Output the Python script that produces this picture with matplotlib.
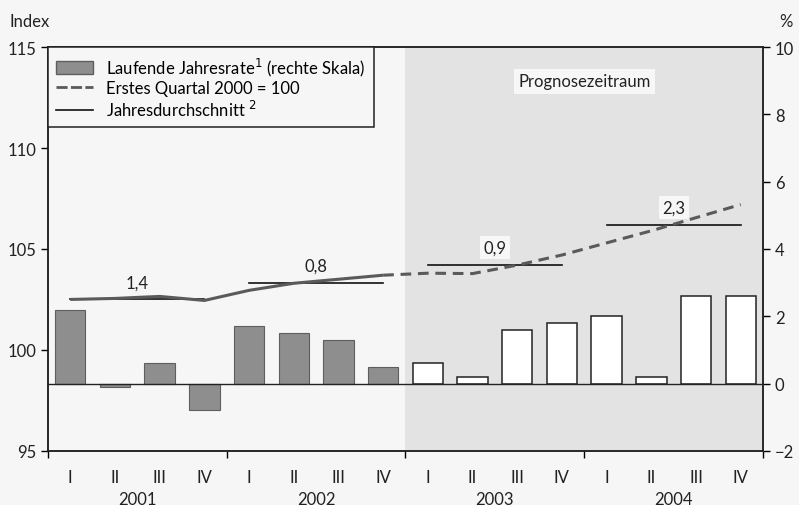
import numpy as np
import matplotlib
matplotlib.use('Agg')
import matplotlib.pyplot as plt
from matplotlib.patches import Patch
from matplotlib.lines import Line2D

plt.rcParams['font.family'] = ['Lato', 'DejaVu Sans']

# Quarters 2001 I .. 2004 IV
quarters = ['I', 'II', 'III', 'IV'] * 4
years = ['2001', '2002', '2003', '2004']

# Laufende Jahresrate in % (right scale)
rate = [2.2, -0.1, 0.6, -0.8, 1.7, 1.5, 1.3, 0.5,
        0.6, 0.2, 1.6, 1.8, 2.0, 0.2, 2.6, 2.6]

# Index, erstes Quartal 2000 = 100
index = [102.5, 102.55, 102.65, 102.45, 102.95, 103.3, 103.5, 103.7,
         103.8, 103.78, 104.2, 104.7, 105.3, 105.9, 106.55, 107.2]

# Jahresdurchschnitt (index level) and growth labels
annual_avg = [102.5, 103.3, 104.2, 106.2]
annual_labels = ['1,4', '0,8', '0,9', '2,3']

n_hist = 8  # 2001-2002 observed, 2003-2004 forecast
fs = 12

fig = plt.figure(figsize=(7.99, 5.06), dpi=100)
fig.patch.set_facecolor('#f6f6f6')
ax2 = fig.add_axes([0.060, 0.107, 0.895, 0.798])
ax = ax2.twinx()
ax.yaxis.tick_left()
ax.yaxis.set_label_position('left')
ax2.yaxis.tick_right()
ax2.yaxis.set_label_position('right')
ax.set_zorder(ax2.get_zorder() + 1)
ax.patch.set_visible(False)
ax2.set_facecolor('#f6f6f6')

x = np.arange(len(quarters))

# forecast shading
ax2.axvspan(n_hist - 0.5, len(quarters) - 0.5, color='#e3e3e3', zorder=0, lw=0)

# bars on right scale
ax2.bar(x[:n_hist], rate[:n_hist], width=0.68, color='#8e8e8e',
        edgecolor='#5e5e5e', linewidth=0.8, zorder=2)
ax2.bar(x[n_hist:], rate[n_hist:], width=0.68, color='white',
        edgecolor='#222222', linewidth=1.1, zorder=2)
ax2.axhline(0, color='#222222', linewidth=1.0, zorder=3)

# index line
ax.plot(x[:n_hist], index[:n_hist], color='#5a5a5a', linewidth=2.2,
        solid_capstyle='butt', zorder=4)
ax.plot(x[n_hist - 1:], index[n_hist - 1:], color='#5a5a5a', linewidth=2.2,
        linestyle=(0, (3.5, 2.2)), zorder=4)

# annual averages
for i, (avg, lab) in enumerate(zip(annual_avg, annual_labels)):
    x0, x1 = 4 * i, 4 * i + 3
    ax.plot([x0, x1], [avg, avg], color='#111111', linewidth=1.2, zorder=3)
    bbox = None
    if 4 * i >= n_hist:
        bbox = dict(facecolor='#f7f7f7', edgecolor='none', pad=2.5)
    ax.text(4 * i + 1.5, avg + 0.85, lab, ha='center', va='center',
            fontsize=fs, color='#222222', bbox=bbox, zorder=5)

ax.text(11.5, 113.3, 'Prognosezeitraum', ha='center', va='center',
        fontsize=fs, color='#222222',
        bbox=dict(facecolor='#f7f7f7', edgecolor='none', pad=3))

# axes
ax.set_xlim(-0.5, len(quarters) - 0.5)
ax.set_ylim(95, 115)
ax2.set_ylim(-2, 10)
ax.set_yticks([95, 100, 105, 110, 115])
ax2.set_yticks([-2, 0, 2, 4, 6, 8, 10])

ax2.set_xticks([-0.5, 3.5, 7.5, 11.5, 15.5])
ax2.set_xticklabels([])
ax2.set_xticks(x, minor=True)
ax2.set_xticklabels(quarters, minor=True)
ax2.tick_params(axis='x', which='major', length=5, width=1, direction='out')
ax2.tick_params(axis='x', which='minor', length=0, pad=13, labelsize=fs,
                labelcolor='#222222')
ax.tick_params(axis='x', which='both', bottom=False, labelbottom=False)

ax.tick_params(axis='y', length=5, width=1, labelsize=fs, labelcolor='#222222')
ax2.tick_params(axis='y', length=5, width=1, labelsize=fs, labelcolor='#222222')

for a in (ax, ax2):
    for s in a.spines.values():
        s.set_color('#222222')
        s.set_linewidth(1.1)

for i, yr in enumerate(years):
    ax2.text(4 * i + 1.5, -0.118, yr, transform=ax2.get_xaxis_transform(),
             ha='center', va='center', fontsize=fs, color='#222222')

fig.text(0.012, 0.957, 'Index', ha='left', va='center', fontsize=fs, color='#222222')
fig.text(0.984, 0.957, '%', ha='center', va='center', fontsize=fs, color='#222222')

# legend
handles = [
    Patch(facecolor='#8e8e8e', edgecolor='#5e5e5e'),
    Line2D([], [], color='#5a5a5a', linewidth=2.0, linestyle=(0, (4, 1.2))),
    Line2D([], [], color='#111111', linewidth=1.2),
]
labels = ['Laufende Jahresrate$^1$ (rechte Skala)', 'Erstes Quartal 2000 = 100',
          'Jahresdurchschnitt $^2$']
leg = ax.legend(handles, labels, loc='upper left', bbox_to_anchor=(0, 1),
                borderaxespad=0, fancybox=False, framealpha=1, fontsize=fs,
                handlelength=2.2, handleheight=0.8, labelspacing=0.15,
                borderpad=0.5, handletextpad=0.8)
leg.get_frame().set_edgecolor('#222222')
leg.get_frame().set_linewidth(1.1)
leg.get_frame().set_facecolor('#f6f6f6')

fig.savefig('out.png', dpi=100, facecolor=fig.get_facecolor())
